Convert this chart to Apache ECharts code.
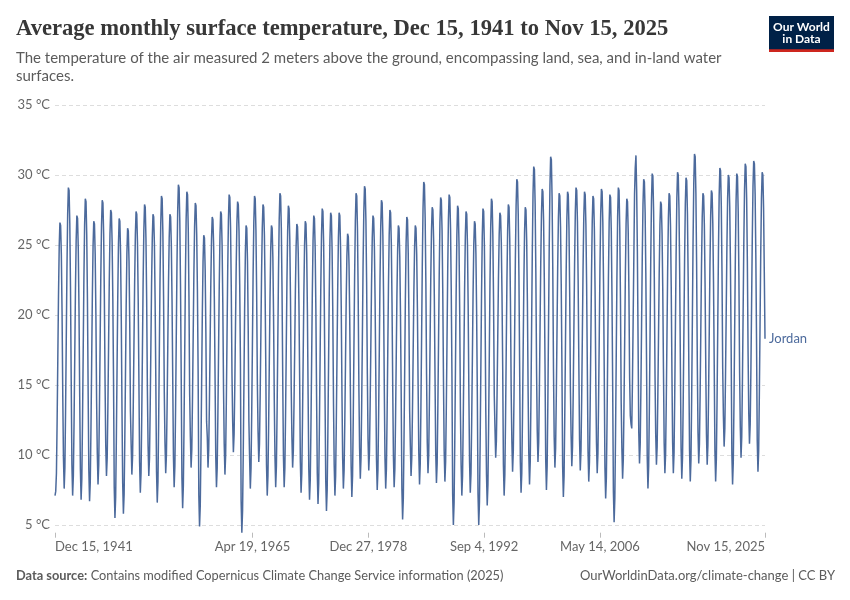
<!DOCTYPE html>
<html><head><meta charset="utf-8">
<script src="https://cdn.jsdelivr.net/npm/echarts@6/dist/echarts.min.js"></script>
<style>html,body{margin:0;padding:0;background:#fff}#c{width:850px;height:600px}</style>
</head><body><div id="c"></div>
<script>
const seriesName = 'Jordan';
const firstYear = 1941, firstMonthIndex = 11; // series starts Dec 15, 1941

// Monthly values (°C). Rows = Jan..Dec of each year.
const temps1940s = [7.1,
  7.4, 8.7, 12.2, 16.8, 21.4, 24.9, 26.6, 26.4, 24.3, 20.3, 14.3, 9.8,
  7.6, 9.1, 13.0, 18.1, 23.3, 27.2, 29.1, 28.9, 26.5, 22.0, 15.3, 9.3,
  7.1, 8.5, 12.1, 16.9, 21.7, 25.3, 27.1, 26.9, 24.7, 20.5, 14.3, 9.0,
  6.8, 8.3, 12.2, 17.3, 22.5, 26.4, 28.3, 28.1, 25.7, 21.2, 14.5, 8.9,
  6.7, 8.1, 11.7, 16.5, 21.3, 24.9, 26.7, 26.5, 24.3, 20.1, 13.9, 10.1,
  7.9, 9.3, 13.0, 17.8, 22.7, 26.4, 28.2, 28.0, 25.8, 21.5, 15.2, 10.7,
  8.5, 9.8, 13.3, 17.8, 22.4, 25.8, 27.5, 27.3, 25.2, 21.2, 15.3, 7.7,
  5.5, 7.0, 10.9, 16.0, 21.1, 25.0, 26.9, 26.7, 24.3, 19.8, 13.2, 8.0];
const temps1950s = [
  5.8, 7.2, 10.9, 15.8, 20.7, 24.4, 26.2, 26.0, 23.8, 19.5, 13.1, 10.8,
  8.6, 9.9, 13.3, 17.8, 22.3, 25.7, 27.4, 27.2, 25.1, 21.2, 15.4, 9.5,
  7.3, 8.7, 12.5, 17.4, 22.3, 26.0, 27.9, 27.7, 25.4, 21.1, 14.7, 10.7,
  8.5, 9.8, 13.2, 17.7, 22.2, 25.5, 27.2, 27.0, 25.0, 21.0, 15.2, 8.8,
  6.6, 8.1, 12.1, 17.3, 22.6, 26.5, 28.5, 28.3, 25.9, 21.3, 14.5, 10.9,
  8.7, 10.0, 13.3, 17.8, 22.2, 25.5, 27.2, 27.0, 25.0, 21.1, 15.4, 9.9,
  7.7, 9.2, 13.1, 18.3, 23.5, 27.4, 29.3, 29.1, 26.7, 22.2, 15.5, 8.4,
  6.2, 7.8, 11.9, 17.3, 22.7, 26.8, 28.8, 28.6, 26.1, 21.3, 14.3, 11.3,
  9.1, 10.4, 13.8, 18.4, 22.9, 26.3, 28.0, 27.8, 25.7, 21.8, 15.9, 7.1,
  4.9, 6.4, 10.1, 15.1, 20.1, 23.8, 25.7, 25.5, 23.2, 18.8, 12.4, 11.3];
const temps1960s = [
  9.1, 10.4, 13.6, 17.9, 22.2, 25.4, 27.0, 26.8, 24.9, 21.1, 15.5, 9.9,
  7.7, 9.1, 12.6, 17.4, 22.1, 25.6, 27.4, 27.2, 25.0, 20.9, 14.8, 10.8,
  8.6, 10.0, 13.6, 18.4, 23.2, 26.8, 28.6, 28.4, 26.2, 22.0, 15.8, 12.4,
  10.2, 11.5, 14.7, 19.0, 23.3, 26.5, 28.1, 27.9, 26.0, 22.2, 16.6, 6.7,
  4.45, 6.0, 10.0, 15.2, 20.5, 24.4, 26.4, 26.2, 23.8, 19.2, 12.4, 9.8,
  7.6, 9.1, 12.8, 17.8, 22.9, 26.6, 28.5, 28.3, 26.0, 21.6, 15.1, 11.7,
  9.5, 10.8, 14.1, 18.5, 22.9, 26.2, 27.9, 27.7, 25.7, 21.8, 16.1, 9.3,
  7.1, 8.5, 11.9, 16.6, 21.2, 24.7, 26.4, 26.2, 24.1, 20.0, 14.0, 9.9,
  7.7, 9.2, 13.0, 18.0, 23.0, 26.8, 28.7, 28.5, 26.2, 21.8, 15.3, 9.9,
  7.7, 9.1, 12.7, 17.5, 22.4, 26.0, 27.8, 27.6, 25.4, 21.2, 14.9, 11.3];
const temps1970s = [
  9.1, 10.3, 13.5, 17.6, 21.8, 24.9, 26.5, 26.3, 24.4, 20.8, 15.4, 9.5,
  7.3, 8.7, 12.2, 16.8, 21.5, 25.0, 26.7, 26.5, 24.4, 20.3, 14.3, 9.0,
  6.8, 8.2, 11.9, 16.7, 21.6, 25.3, 27.1, 26.9, 24.7, 20.4, 14.1, 8.7,
  6.5, 8.0, 11.8, 16.8, 21.9, 25.7, 27.6, 27.4, 25.1, 20.6, 14.1, 8.2,
  6.0, 7.5, 11.3, 16.4, 21.5, 25.4, 27.3, 27.1, 24.7, 20.3, 13.7, 9.3,
  7.1, 8.5, 12.2, 17.0, 21.8, 25.5, 27.3, 27.1, 24.9, 20.6, 14.4, 9.8,
  7.6, 8.9, 12.2, 16.5, 20.9, 24.2, 25.8, 25.6, 23.6, 19.8, 14.2, 9.2,
  7.0, 8.5, 12.4, 17.6, 22.8, 26.7, 28.7, 28.5, 26.1, 21.5, 14.8, 10.5,
  8.3, 9.8, 13.5, 18.5, 23.6, 27.3, 29.2, 29.0, 26.7, 22.3, 15.8, 11.1,
  8.9, 10.2, 13.5, 17.8, 22.2, 25.5, 27.1, 26.9, 24.9, 21.1, 15.5, 9.7];
const temps1980s = [
  7.5, 8.9, 12.7, 17.6, 22.6, 26.3, 28.2, 28.0, 25.7, 21.4, 15.0, 9.8,
  7.6, 9.0, 12.6, 17.4, 22.1, 25.7, 27.5, 27.3, 25.1, 20.9, 14.8, 9.9,
  7.7, 9.0, 12.4, 16.9, 21.4, 24.7, 26.4, 26.2, 24.2, 20.2, 14.4, 7.6,
  5.4, 6.9, 10.8, 16.0, 21.2, 25.1, 27.0, 26.8, 24.4, 19.9, 13.2, 10.7,
  8.5, 9.8, 13.0, 17.3, 21.6, 24.8, 26.4, 26.2, 24.3, 20.5, 14.9, 10.1,
  7.9, 9.4, 13.3, 18.5, 23.7, 27.6, 29.5, 29.3, 26.9, 22.4, 15.7, 10.9,
  8.7, 10.0, 13.5, 18.0, 22.6, 26.0, 27.7, 27.5, 25.4, 21.4, 15.5, 10.2,
  8.0, 9.4, 13.1, 18.0, 22.9, 26.6, 28.4, 28.2, 26.0, 21.7, 15.3, 10.3,
  8.1, 9.5, 13.2, 18.1, 23.1, 26.8, 28.6, 28.4, 26.1, 21.8, 15.5, 7.2,
  5.0, 6.6, 10.7, 16.2, 21.6, 25.7, 27.8, 27.6, 25.1, 20.3, 13.2, 9.3];
const temps1990s = [
  7.1, 8.5, 12.2, 17.0, 21.9, 25.6, 27.4, 27.2, 25.0, 20.7, 14.4, 9.5,
  7.3, 8.7, 12.2, 16.8, 21.5, 25.0, 26.7, 26.5, 24.4, 20.3, 14.3, 7.2,
  5.0, 6.6, 10.7, 16.1, 21.5, 25.6, 27.6, 27.4, 24.9, 20.1, 13.1, 8.6,
  6.4, 7.9, 11.9, 17.1, 22.4, 26.3, 28.3, 28.1, 25.7, 21.1, 14.3, 12.0,
  9.8, 11.0, 14.2, 18.4, 22.6, 25.7, 27.3, 27.1, 25.2, 21.5, 16.1, 9.3,
  7.1, 8.6, 12.3, 17.3, 22.3, 26.0, 27.9, 27.7, 25.4, 21.0, 14.6, 11.0,
  8.8, 10.3, 14.0, 19.0, 24.1, 27.8, 29.7, 29.5, 27.2, 22.8, 16.3, 9.5,
  7.3, 8.7, 12.4, 17.3, 22.2, 25.9, 27.7, 27.5, 25.3, 21.0, 14.6, 10.1,
  7.9, 9.5, 13.6, 19.0, 24.5, 28.6, 30.6, 30.4, 27.9, 23.1, 16.1, 11.7,
  9.5, 10.9, 14.4, 19.1, 23.7, 27.2, 29.0, 28.8, 26.7, 22.6, 16.5, 9.7];
const temps2000s = [
  7.5, 9.2, 13.5, 19.2, 24.9, 29.2, 31.3, 31.1, 28.4, 23.4, 16.1, 11.3,
  9.1, 10.5, 14.0, 18.7, 23.4, 26.9, 28.7, 28.5, 26.3, 22.2, 16.2, 9.2,
  7.0, 8.5, 12.5, 17.7, 22.9, 26.8, 28.8, 28.6, 26.2, 21.6, 14.8, 11.4,
  9.2, 10.6, 14.2, 19.0, 23.7, 27.3, 29.1, 28.9, 26.7, 22.5, 16.4, 11.1,
  8.9, 10.3, 13.9, 18.7, 23.4, 27.0, 28.8, 28.6, 26.4, 22.2, 16.1, 10.3,
  8.1, 9.5, 13.2, 18.1, 23.0, 26.7, 28.5, 28.3, 26.1, 21.8, 15.4, 10.9,
  8.7, 10.1, 13.8, 18.6, 23.5, 27.2, 29.0, 28.8, 26.6, 22.3, 16.0, 9.1,
  6.9, 8.4, 12.3, 17.5, 22.7, 26.6, 28.6, 28.4, 26.0, 21.4, 14.7, 7.4,
  5.2, 6.9, 11.2, 16.9, 22.6, 27.0, 29.1, 28.9, 26.2, 21.2, 13.8, 10.5,
  8.3, 9.7, 13.3, 18.1, 22.9, 26.5, 28.3, 28.1, 25.9, 21.7, 15.5, 12.8];
const temps2010s = [
  12.2, 11.9, 15.0, 19.5, 24.0, 28.6, 30.5, 31.4, 28.9, 24.6, 18.0, 11.6,
  9.4, 10.8, 14.5, 19.3, 24.2, 27.9, 29.7, 29.5, 27.3, 23.0, 16.7, 9.8,
  7.6, 9.2, 13.2, 18.6, 24.0, 28.1, 30.1, 29.9, 27.4, 22.7, 15.7, 11.5,
  9.3, 10.6, 14.0, 18.5, 23.0, 26.4, 28.1, 27.9, 25.8, 21.9, 16.1, 10.9,
  8.7, 10.1, 13.7, 18.5, 23.3, 26.9, 28.7, 28.5, 26.3, 22.1, 15.9, 10.9,
  8.7, 10.2, 14.1, 19.2, 24.4, 28.3, 30.2, 30.0, 27.6, 23.1, 16.4, 10.5,
  8.3, 9.8, 13.7, 18.8, 24.0, 27.9, 29.8, 29.6, 27.2, 22.7, 16.0, 10.3,
  8.1, 9.7, 13.9, 19.6, 25.2, 29.4, 31.5, 31.3, 28.7, 23.8, 16.5, 11.6,
  9.4, 10.8, 14.2, 18.9, 23.5, 27.0, 28.7, 28.5, 26.4, 22.3, 16.3, 11.5,
  9.3, 10.7, 14.2, 18.9, 23.6, 27.1, 28.9, 28.7, 26.5, 22.4, 16.4, 10.3];
const temps2020s = [
  8.1, 9.7, 13.7, 19.1, 24.5, 28.5, 30.5, 30.3, 27.8, 23.1, 16.2, 12.8,
  10.6, 11.9, 15.5, 20.1, 24.8, 28.3, 30.0, 29.8, 27.7, 23.6, 17.6, 10.1,
  7.9, 9.5, 13.5, 18.8, 24.1, 28.1, 30.1, 29.9, 27.4, 22.8, 15.9, 12.0,
  9.8, 11.3, 15.1, 20.1, 25.1, 28.9, 30.8, 30.6, 28.3, 23.9, 17.4, 13.0,
  10.8, 12.2, 15.9, 20.7, 25.5, 29.2, 31.0, 30.8, 28.6, 24.3, 18.1, 11.0,
  8.8, 10.3, 14.2, 19.3, 24.4, 28.3, 30.2, 30.0, 27.6, 23.1, 18.3];

const yTickValues = [5, 10, 15, 20, 25, 30, 35];
const xTickDates = ['1941-12-15', '1965-04-19', '1978-12-27', '1992-09-04', '2006-05-14', '2025-11-15'];
const xTickLabels = ['Dec 15, 1941', 'Apr 19, 1965', 'Dec 27, 1978', 'Sep 4, 1992', 'May 14, 2006', 'Nov 15, 2025'];

const allTemps = [].concat(temps1940s, temps1950s, temps1960s, temps1970s, temps1980s, temps1990s, temps2000s, temps2010s, temps2020s);
const seriesData = allTemps.map((v, i) => [Date.UTC(firstYear, firstMonthIndex + i, 15), v]);
const xTickTs = xTickDates.map(d => Date.parse(d + 'T00:00:00Z'));

const chart = echarts.init(document.getElementById('c'), null, { renderer: 'canvas' });
const gray = '#5b5b5b';
const lineColor = '#4c6a9c';
const sans = 'Lato, "Noto Sans", sans-serif';

chart.setOption({
  animation: false,
  backgroundColor: '#fff',
  grid: { left: 55, right: 85, top: 105, bottom: 67.3, outerBoundsMode: 'none' },
  xAxis: {
    type: 'value',
    min: xTickTs[0],
    max: xTickTs[xTickTs.length - 1],
    axisLine: { show: false },
    axisTick: { show: true, length: 5, lineStyle: { color: '#bbb' }, customValues: xTickTs },
    splitLine: { show: false },
    axisLabel: {
      customValues: xTickTs,
      color: '#666', fontSize: 13, fontFamily: sans, margin: 8,
      alignMinLabel: 'left', alignMaxLabel: 'right',
      formatter: function (v) {
        let best = 0;
        for (let i = 0; i < xTickTs.length; i++) if (Math.abs(xTickTs[i] - v) < Math.abs(xTickTs[best] - v)) best = i;
        return xTickLabels[best];
      }
    }
  },
  yAxis: {
    type: 'value',
    min: function (e) { return e.min; },
    max: 35,
    axisLine: { show: false },
    axisTick: { show: false, customValues: yTickValues },
    axisLabel: { customValues: yTickValues, formatter: '{value} °C', color: '#666', fontSize: 13, fontFamily: sans, margin: 5 },
    splitLine: { show: true, lineStyle: { color: '#dddddd', type: [4, 3] } }
  },
  series: [{
    name: seriesName,
    type: 'line',
    data: seriesData,
    showSymbol: false,
    symbol: 'none',
    lineStyle: { color: lineColor, width: 1.5 },
    itemStyle: { color: lineColor },
    endLabel: { show: true, formatter: seriesName, color: lineColor, fontSize: 13, fontFamily: sans, distance: 4 }
  }],
  graphic: [
    { type: 'text', left: 16, top: 18, style: { text: 'Average monthly surface temperature, Dec 15, 1941 to Nov 15, 2025', fontFamily: '"Liberation Serif", "DejaVu Serif", serif', fontWeight: 'bold', fontSize: 22.6, fill: '#373737' } },
    { type: 'text', left: 16, top: 49, style: { text: 'The temperature of the air measured 2 meters above the ground, encompassing land, sea, and in-land water\nsurfaces.', fontFamily: sans, fontSize: 15, lineHeight: 18, fill: gray } },
    { type: 'rect', shape: { x: 769, y: 16, width: 65, height: 34 }, style: { fill: '#002147' } },
    { type: 'rect', shape: { x: 769, y: 49.3, width: 65, height: 2.6 }, style: { fill: '#ce261e' } },
    { type: 'text', x: 801.5, y: 33, style: { text: 'Our World\nin Data', align: 'center', verticalAlign: 'middle', fontFamily: sans, fontWeight: 'bold', fontSize: 12, lineHeight: 12.5, fill: '#fff' } },
    { type: 'text', left: 16, top: 569, style: { rich: { b: { fontWeight: 'bold', fontFamily: sans, fontSize: 12.8, fill: gray }, n: { fontFamily: sans, fontSize: 12.8, fill: gray } }, text: '{b|Data source:} {n|Contains modified Copernicus Climate Change Service information (2025)}' } },
    { type: 'text', right: 15, top: 569, style: { text: 'OurWorldinData.org/climate-change | CC BY', fontFamily: sans, fontSize: 13, fill: gray } }
  ]
});
</script>
</body></html>
